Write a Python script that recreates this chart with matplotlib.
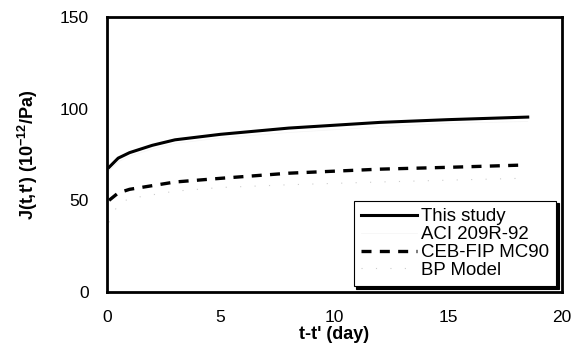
import matplotlib
matplotlib.use("Agg")
import matplotlib.pyplot as plt

plt.rcParams["font.family"] = ["Liberation Sans", "DejaVu Sans"]
plt.rcParams["mathtext.fontset"] = "custom"
plt.rcParams["mathtext.rm"] = "Liberation Sans"
plt.rcParams["mathtext.bf"] = "Liberation Sans:bold"

# values
t_study = [0.1, 0.5, 1, 2, 3, 5, 8, 12, 15, 18.5]
j_study = [68, 73, 76, 80, 83, 86, 89.4, 92.5, 94, 95.4]

t_aci = [0.1, 0.5, 1, 2, 3, 5, 8, 12, 15, 18.5]
j_aci = [66, 71, 74, 78, 81, 84, 87, 90, 92, 93]

t_ceb = [0.1, 0.5, 1, 2, 3, 5, 8, 12, 15, 18.2]
j_ceb = [50, 54, 56, 58, 60, 62, 64.8, 67, 68, 69.2]

t_bp = [0.1, 0.5, 1, 2, 3, 5, 8, 12, 15, 18.2]
j_bp = [38, 48, 51, 53, 55, 57, 58.5, 60, 61, 62]

x_ticks = [0, 5, 10, 15, 20]
y_ticks = [0, 50, 100, 150]

fig = plt.figure(figsize=(5.71, 3.46), dpi=100)
ax = fig.add_axes([0.187, 0.156, 0.797, 0.795])

ax.plot(t_study, j_study, color="black", lw=2.2, label="This study")
ax.plot(t_aci, j_aci, color="#f4f4f4", lw=0.5, label="ACI 209R-92")
ax.plot(t_ceb, j_ceb, color="black", lw=2.4, dashes=(3, 2.5), label="CEB-FIP MC90")
ax.plot(t_bp, j_bp, color="#cccccc", lw=0.8, ls=(0, (1, 12)), label="BP Model")

ax.set_xlim(0, 20)
ax.set_ylim(0, 150)
ax.set_xticks(x_ticks)
ax.set_yticks(y_ticks)
ax.tick_params(axis="x", length=0, labelsize=12.5, pad=13)
ax.tick_params(axis="y", length=0, labelsize=12.5, pad=13)
for s in ax.spines.values():
    s.set_linewidth(2)

ax.set_xlabel("t-t' (day)", fontsize=13, fontweight="bold", labelpad=1)
ax.set_ylabel("J(t,t') (10$^{\\mathbf{-12}}$/Pa)", fontsize=13, fontweight="bold", labelpad=14)

leg = ax.legend(loc="lower right", fontsize=13.4, frameon=True, fancybox=False,
                borderaxespad=0.3, handlelength=3.0, handletextpad=0.2,
                labelspacing=0.05, borderpad=0.4,
                shadow={"color": "black", "alpha": 1, "ox": 2, "oy": -2})
leg.get_frame().set_edgecolor("black")
leg.get_frame().set_linewidth(0.8)

fig.savefig("out.png", dpi=100)
